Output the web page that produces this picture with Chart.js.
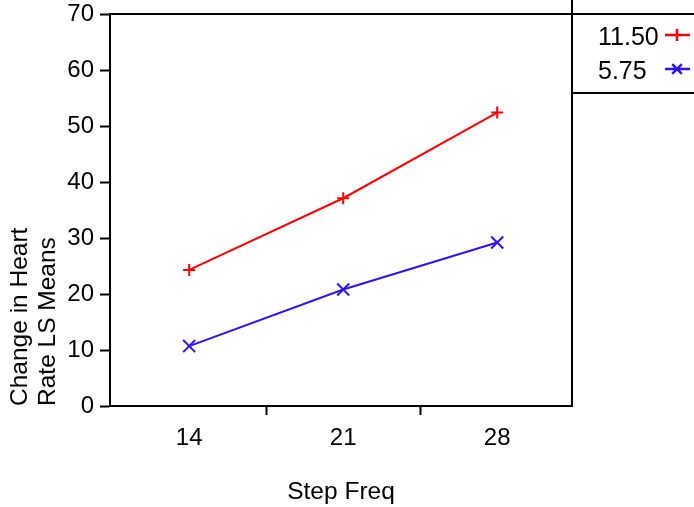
<!DOCTYPE html>
<html>
<head>
<meta charset="utf-8">
<script src="https://cdn.jsdelivr.net/npm/chart.js@4/dist/chart.umd.min.js"></script>
<style>
  html, body { margin: 0; padding: 0; background: #fff; }
  canvas { display: block; }
</style>
</head>
<body>
<canvas id="chart" width="694" height="507"></canvas>
<script>
const stepFreq = [14, 21, 28];
const hiSeries = [24.3, 37.1, 52.4];
const loSeries = [10.7, 20.8, 29.2];
const seriesNames = ['11.50', '5.75'];
const xTickValues = [14, 17.5, 21, 24.5, 28];
const yTitle = ['Change in Heart', 'Rate LS Means'];
const xTitle = 'Step Freq';

const FONT = 'Liberation Sans, Arial, Helvetica, sans-serif';
const RED = '#ff0000';
const BLUE = '#2a14ff';

function toPoints(values) {
    return stepFreq.map((x, i) => ({ x: x, y: values[i] }));
}

// frame around the plot plus the legend box on the right
const framePlugin = {
    id: 'frame',
    afterDraw(chart) {
        const { ctx, chartArea: a } = chart;
        ctx.save();
        ctx.strokeStyle = '#000';
        ctx.lineWidth = 2;
        ctx.beginPath();
        ctx.moveTo(a.left, a.top);
        ctx.lineTo(chart.width, a.top);
        ctx.moveTo(a.right, 0);
        ctx.lineTo(a.right, a.bottom);
        ctx.moveTo(a.right, 93);
        ctx.lineTo(chart.width, 93);
        ctx.stroke();

        // legend entries
        ctx.font = '25px ' + FONT;
        ctx.textBaseline = 'middle';
        ctx.textAlign = 'left';
        chart.data.datasets.forEach((ds, i) => {
            const y = 38 + i * 34;
            ctx.fillStyle = '#000';
            ctx.fillText(ds.label, 598, y);
            const my = y - 3;
            ctx.strokeStyle = ds.borderColor;
            ctx.lineWidth = 2.5;
            ctx.beginPath();
            ctx.moveTo(665, my);
            ctx.lineTo(690, my);
            const cx = 677, r = 6;
            if (ds.pointStyle === 'cross') {
                ctx.moveTo(cx, my - r);
                ctx.lineTo(cx, my + r);
            } else {
                ctx.moveTo(cx - r * 0.8, my - r * 0.8);
                ctx.lineTo(cx + r * 0.8, my + r * 0.8);
                ctx.moveTo(cx - r * 0.8, my + r * 0.8);
                ctx.lineTo(cx + r * 0.8, my - r * 0.8);
            }
            ctx.stroke();
        });
        ctx.restore();
    }
};

new Chart(document.getElementById('chart'), {
    type: 'line',
    data: {
        datasets: [
            {
                label: seriesNames[0],
                data: toPoints(hiSeries),
                borderColor: RED,
                backgroundColor: RED,
                borderWidth: 2,
                pointStyle: 'cross',
                pointRadius: 6,
                pointBorderWidth: 2,
                pointBorderColor: RED,
                fill: false,
                tension: 0,
            },
            {
                label: seriesNames[1],
                data: toPoints(loSeries),
                borderColor: BLUE,
                backgroundColor: BLUE,
                borderWidth: 2,
                pointStyle: 'crossRot',
                pointRadius: 8.5,
                pointBorderWidth: 2,
                pointBorderColor: BLUE,
                fill: false,
                tension: 0,
            },
        ],
    },
    options: {
        responsive: false,
        animation: false,
        events: [],
        layout: { padding: { top: 14, right: 122, bottom: 0, left: 0 } },
        scales: {
            x: {
                type: 'linear',
                min: 10.4,
                max: 31.4,
                afterBuildTicks(axis) {
                    axis.ticks = xTickValues.map(v => ({ value: v }));
                },
                afterFit(axis) {
                    axis.height = 101;
                    axis.paddingLeft = 0;
                    axis.paddingRight = 0;
                },
                ticks: {
                    color: '#000',
                    font: { family: FONT, size: 24 },
                    padding: 9,
                    maxRotation: 0,
                    autoSkip: false,
                    callback: v => stepFreq.includes(v) ? String(v) : '',
                },
                grid: {
                    drawOnChartArea: false,
                    drawTicks: true,
                    tickLength: 9,
                    tickWidth: 2,
                    tickColor: c => (c.tick && stepFreq.includes(c.tick.value)) ? 'rgba(0,0,0,0)' : '#000',
                },
                border: { color: '#000', width: 2 },
                title: {
                    display: true,
                    text: xTitle,
                    color: '#000',
                    font: { family: FONT, size: 24.5 },
                    padding: { top: 0, bottom: 0 },
                },
            },
            y: {
                min: 0,
                max: 70,
                afterFit(axis) {
                    axis.width = 110;
                    axis.paddingTop = 0;
                    axis.paddingBottom = 0;
                },
                ticks: {
                    stepSize: 10,
                    color: '#000',
                    font: { family: FONT, size: 24 },
                    padding: 6,
                },
                grid: {
                    drawOnChartArea: false,
                    drawTicks: true,
                    tickLength: 10,
                    tickWidth: 2,
                    tickColor: '#000',
                },
                border: { color: '#000', width: 2 },
                title: {
                    display: true,
                    text: yTitle,
                    align: 'start',
                    color: '#000',
                    font: { family: FONT, size: 24.5, lineHeight: 1.15 },
                    padding: { top: 6, bottom: 0 },
                },
            },
        },
        plugins: {
            legend: { display: false },
            tooltip: { enabled: false },
        },
    },
    plugins: [framePlugin],
});
</script>
</body>
</html>
